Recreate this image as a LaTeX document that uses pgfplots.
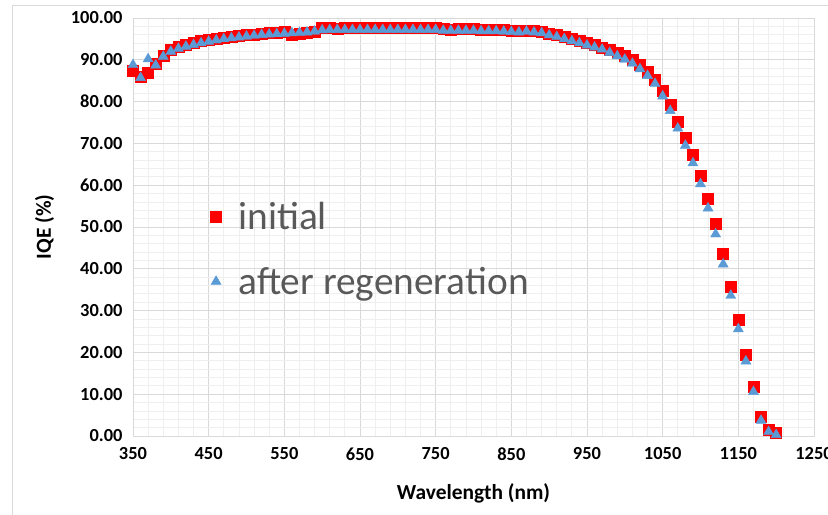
\documentclass[border=0pt]{standalone}
\usepackage{pgfplots}
\pgfplotsset{compat=1.18}
\usepackage{pgfplotstable}
\usepackage{fontspec}
\setmainfont{Carlito}
\definecolor{gridmaj}{HTML}{D9D9D9}
\definecolor{gridmin}{HTML}{EFEFEF}
\definecolor{sqred}{HTML}{FF0000}
\definecolor{triblue}{HTML}{5B9BD5}
\definecolor{legtxt}{HTML}{595959}
\pgfplotstableread{
x y
350 87.5
360 86.0
370 87.0
380 89.0
390 91.0
400 92.4
410 93.1
420 93.6
430 94.1
440 94.5
450 94.8
460 95.1
470 95.3
480 95.5
490 95.7
500 95.9
510 96.1
520 96.3
530 96.4
540 96.5
550 96.7
560 96.1
570 96.2
580 96.4
590 96.8
600 97.6
610 97.6
620 97.5
630 97.6
640 97.7
650 97.6
660 97.7
670 97.7
680 97.6
690 97.7
700 97.7
710 97.6
720 97.7
730 97.6
740 97.7
750 97.6
760 97.4
770 97.3
780 97.4
790 97.4
800 97.4
810 97.3
820 97.3
830 97.3
840 97.1
850 97.0
860 97.0
870 97.0
880 96.9
890 96.7
900 96.3
910 95.9
920 95.5
930 95.0
940 94.5
950 94.0
960 93.5
970 93.0
980 92.3
990 91.6
1000 90.9
1010 90.0
1020 88.8
1030 87.2
1040 85.3
1050 82.6
1060 79.3
1070 75.2
1080 71.4
1090 67.4
1100 62.3
1110 56.7
1120 50.9
1130 43.6
1140 35.8
1150 27.8
1160 19.5
1170 11.8
1180 4.5
1190 1.6
1200 0.7
}\initial
\pgfplotstableread{
x y
350 88.8
360 85.7
370 90.2
380 88.7
390 90.8
400 92.0
410 92.7
420 93.2
430 93.6
440 94.0
450 94.4
460 94.7
470 95.0
480 95.2
490 95.4
500 95.6
510 95.8
520 96.0
530 96.1
540 96.2
550 96.3
560 96.4
570 96.5
580 96.6
590 96.8
600 97.1
610 97.2
620 97.2
630 97.2
640 97.2
650 97.2
660 97.2
670 97.2
680 97.2
690 97.2
700 97.2
710 97.2
720 97.2
730 97.2
740 97.2
750 97.2
760 97.0
770 97.0
780 97.0
790 97.0
800 97.0
810 96.9
820 96.9
830 96.9
840 96.8
850 96.7
860 96.6
870 96.8
880 96.6
890 96.4
900 95.9
910 95.5
920 95.0
930 94.5
940 94.0
950 93.5
960 93.0
970 92.5
980 91.7
990 90.9
1000 90.1
1010 89.1
1020 87.8
1030 86.2
1040 84.3
1050 81.3
1060 77.8
1070 73.6
1080 69.5
1090 65.3
1100 60.3
1110 54.5
1120 48.3
1130 41.1
1140 33.6
1150 25.6
1160 17.9
1170 10.6
1180 3.7
1190 1.0
1200 0.3
}\regen
\begin{document}
\begin{tikzpicture}
\path[use as bounding box] (0,0) rectangle (828bp,515bp);
\draw[gridmaj, line width=0.8pt] (12bp,0) -- (12bp,510bp) -- (828bp,510bp);
\begin{axis}[
  at={(133bp,79bp)}, anchor=south west,
  scale only axis, width=681bp, height=418bp,
  xmin=350, xmax=1250, ymin=0, ymax=100,
  xtick={350,450,...,1250}, ytick={0,10,...,100},
  minor x tick num=4, minor y tick num=4,
  grid=both,
  major grid style={gridmaj, line width=0.8pt},
  minor grid style={gridmin, line width=0.8pt},
  axis line style={gridmaj, line width=0.8pt},
  major tick length=0pt, minor tick length=0pt,
  /pgf/number format/assume math mode=true,
  ticklabel style={font=\fontsize{18.5}{20}\selectfont\bfseries, text=black},
  yticklabel style={/pgf/number format/.cd, fixed, fixed zerofill, precision=2},
  xticklabel style={/pgf/number format/1000 sep={}},
  xlabel={Wavelength (nm)}, ylabel={IQE (\%)},
  label style={font=\fontsize{21.5}{23}\selectfont\bfseries},
  xlabel style={at={(0.5,-0.137)}, anchor=center},
  ylabel style={at={(-0.13,0.5)}, anchor=center},
  xticklabel shift=8bp, yticklabel shift=7bp,
  legend style={at={(0.109,0.569)}, anchor=north west, draw=none, fill=none,
    font=\fontsize{39.5}{44}\selectfont, text=legtxt, row sep=32bp,
    legend cell align=left},
  legend image code/.code={\path[draw=none,fill=none] (0bp,0bp) -- (26bp,0bp);\draw[#1] plot coordinates {(0.2cm,0cm)};},
  clip=false,
]
\addplot[only marks, mark=square*, mark size=5.5bp, sqred, mark options={draw=sqred, fill=sqred}] table[x=x,y=y] {\initial};
\addlegendentry{initial}
\addplot[only marks, mark=triangle*, mark size=5.8bp, triblue, mark options={draw=triblue, fill=triblue}] table[x=x,y=y] {\regen};
\addlegendentry{after regeneration}
\end{axis}
\end{tikzpicture}
\end{document}
